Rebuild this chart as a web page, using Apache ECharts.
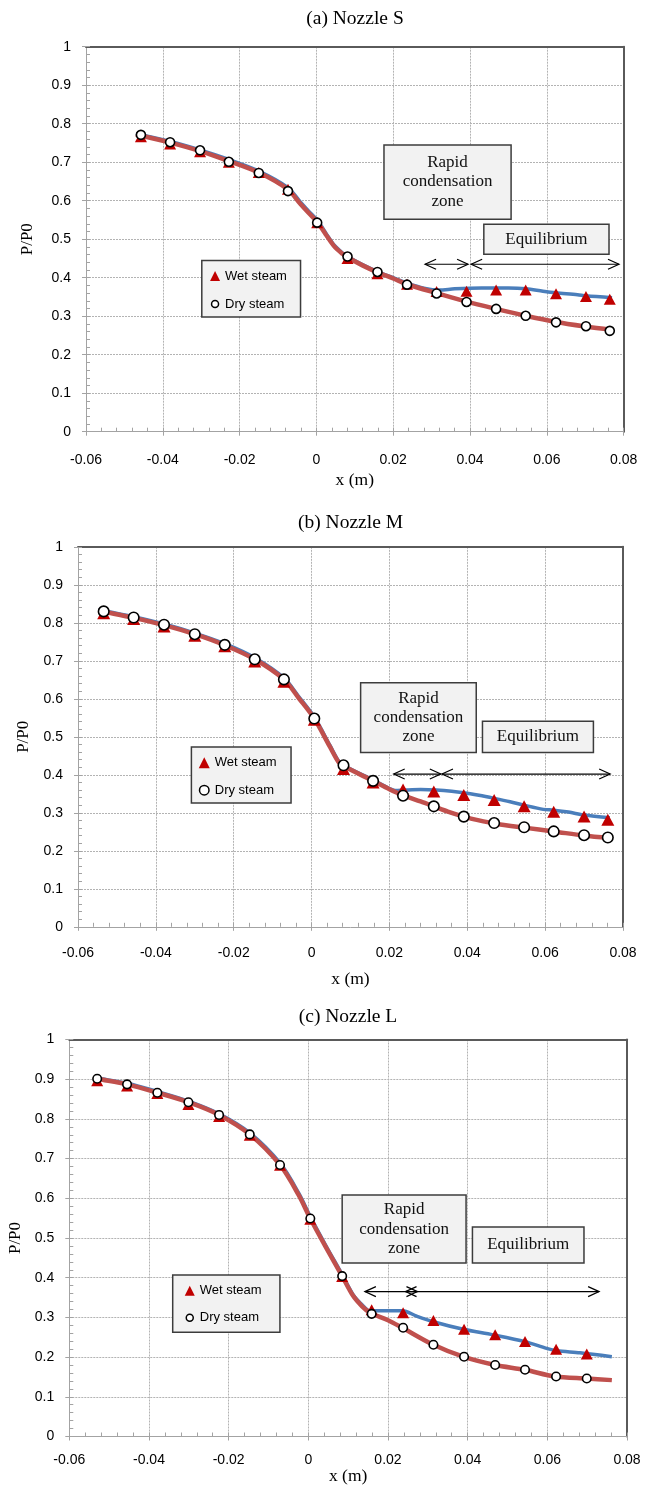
<!DOCTYPE html>
<html>
<head>
<meta charset="utf-8">
<title>P/P0 along the nozzle axis</title>
<script src="https://cdn.jsdelivr.net/npm/echarts@6/dist/echarts.min.js"></script>
<style>
  html, body { margin: 0; padding: 0; background: #ffffff; }
  #chart { width: 655px; height: 1487px; }
</style>
</head>
<body>
<div id="chart"></div>
<script>
// ---------------------------------------------------------------------------
// Data: static pressure ratio P/P0 along the nozzle axis x (m)
// ---------------------------------------------------------------------------
const panelTitles = ['(a) Nozzle S', '(b) Nozzle M', '(c) Nozzle L'];
const seriesNames = ['Wet steam', 'Dry steam'];
const xTickLabels = ['-0.06', '-0.04', '-0.02', '0', '0.02', '0.04', '0.06', '0.08'];
const yTickLabels = ['0', '0.1', '0.2', '0.3', '0.4', '0.5', '0.6', '0.7', '0.8', '0.9', '1'];
const zoneLabels = ['Rapid\ncondensation\nzone', 'Equilibrium'];

// Nozzle S
const xS   = [-0.0457, -0.0381, -0.0303, -0.0228, -0.0150, -0.0074, 0.0002, 0.0081, 0.0159, 0.0236, 0.0313, 0.0391, 0.0468, 0.0545, 0.0624, 0.0702, 0.0764];
const wetS = [0.766, 0.747, 0.727, 0.700, 0.673, 0.630, 0.543, 0.450, 0.410, 0.383, 0.364, 0.365, 0.368, 0.368, 0.358, 0.351, 0.344];
const dryS = [0.771, 0.752, 0.731, 0.701, 0.672, 0.625, 0.543, 0.455, 0.415, 0.382, 0.359, 0.337, 0.319, 0.301, 0.284, 0.274, 0.262];
const wetCurveS = [[-0.0470, 0.774], [-0.0381, 0.754], [-0.0303, 0.732], [-0.0228, 0.707], [-0.0150, 0.677], [-0.0074, 0.634], [-0.0042, 0.597], [-0.0020, 0.573], [0.0002, 0.550], [0.0024, 0.517], [0.0046, 0.485], [0.0068, 0.464], [0.0081, 0.455], [0.0120, 0.434], [0.0159, 0.416], [0.0200, 0.400], [0.0236, 0.386], [0.0280, 0.373], [0.0320, 0.368], [0.0360, 0.371], [0.0430, 0.373], [0.0500, 0.373], [0.0546, 0.371], [0.0590, 0.365], [0.0624, 0.361], [0.0680, 0.356], [0.0702, 0.353], [0.0770, 0.348]];
const dryCurveS = [[-0.0470, 0.772], [-0.0381, 0.751], [-0.0303, 0.729], [-0.0228, 0.703], [-0.0150, 0.673], [-0.0074, 0.629], [-0.0042, 0.592], [-0.0020, 0.568], [0.0002, 0.545], [0.0024, 0.513], [0.0046, 0.482], [0.0068, 0.462], [0.0081, 0.453], [0.0120, 0.432], [0.0159, 0.414], [0.0200, 0.398], [0.0236, 0.383], [0.0313, 0.360], [0.0391, 0.338], [0.0468, 0.319], [0.0545, 0.301], [0.0624, 0.285], [0.0702, 0.273], [0.0770, 0.264]];

// Nozzle M
const xM   = [-0.0534, -0.0457, -0.0379, -0.0300, -0.0223, -0.0146, -0.0071, 0.0007, 0.0082, 0.0158, 0.0235, 0.0314, 0.0391, 0.0469, 0.0546, 0.0622, 0.0700, 0.0761];
const wetM = [0.825, 0.810, 0.790, 0.766, 0.738, 0.698, 0.645, 0.545, 0.415, 0.380, 0.361, 0.356, 0.347, 0.334, 0.317, 0.303, 0.290, 0.282];
const dryM = [0.830, 0.814, 0.795, 0.770, 0.742, 0.704, 0.651, 0.548, 0.425, 0.384, 0.345, 0.317, 0.290, 0.273, 0.262, 0.251, 0.241, 0.235];
const wetCurveM = [[-0.0548, 0.834], [-0.0534, 0.832], [-0.0457, 0.816], [-0.0379, 0.797], [-0.0300, 0.773], [-0.0223, 0.745], [-0.0146, 0.708], [-0.0071, 0.655], [-0.0033, 0.606], [0.0007, 0.552], [0.0047, 0.478], [0.0069, 0.437], [0.0082, 0.425], [0.0158, 0.386], [0.0200, 0.364], [0.0215, 0.359], [0.0240, 0.360], [0.0280, 0.361], [0.0320, 0.360], [0.0360, 0.357], [0.0391, 0.353], [0.0430, 0.346], [0.0469, 0.338], [0.0510, 0.329], [0.0546, 0.320], [0.0595, 0.309], [0.0622, 0.307], [0.0660, 0.302], [0.0700, 0.294], [0.0766, 0.287]];
const dryCurveM = [[-0.0548, 0.832], [-0.0534, 0.829], [-0.0457, 0.813], [-0.0379, 0.794], [-0.0300, 0.770], [-0.0223, 0.741], [-0.0146, 0.704], [-0.0071, 0.651], [-0.0033, 0.602], [0.0007, 0.548], [0.0047, 0.474], [0.0069, 0.434], [0.0082, 0.423], [0.0158, 0.384], [0.0200, 0.362], [0.0235, 0.346], [0.0280, 0.330], [0.0314, 0.317], [0.0350, 0.303], [0.0391, 0.290], [0.0430, 0.280], [0.0469, 0.272], [0.0546, 0.261], [0.0622, 0.251], [0.0700, 0.240], [0.0766, 0.233]];

// Nozzle L
const xL   = [-0.0530, -0.0455, -0.0379, -0.0301, -0.0224, -0.0147, -0.0071, 0.0005, 0.0085, 0.0159, 0.0238, 0.0314, 0.0391, 0.0469, 0.0544, 0.0622, 0.0699];
const wetL = [0.896, 0.883, 0.864, 0.836, 0.806, 0.759, 0.683, 0.547, 0.403, 0.319, 0.312, 0.292, 0.270, 0.256, 0.239, 0.220, 0.208];
const dryL = [0.901, 0.887, 0.866, 0.842, 0.810, 0.761, 0.684, 0.549, 0.404, 0.309, 0.274, 0.231, 0.201, 0.180, 0.168, 0.151, 0.146];
const wetCurveL = [[-0.0537, 0.905], [-0.0530, 0.903], [-0.0455, 0.890], [-0.0379, 0.869], [-0.0301, 0.845], [-0.0224, 0.813], [-0.0147, 0.765], [-0.0071, 0.689], [-0.0024, 0.613], [0.0005, 0.554], [0.0044, 0.481], [0.0085, 0.408], [0.0112, 0.358], [0.0135, 0.332], [0.0155, 0.316], [0.0172, 0.317], [0.0237, 0.317], [0.0270, 0.304], [0.0314, 0.289], [0.0389, 0.270], [0.0464, 0.256], [0.0544, 0.239], [0.0598, 0.222], [0.0624, 0.216], [0.0682, 0.211], [0.0762, 0.201]];
const dryCurveL = [[-0.0537, 0.903], [-0.0530, 0.901], [-0.0455, 0.887], [-0.0379, 0.866], [-0.0301, 0.842], [-0.0224, 0.810], [-0.0147, 0.761], [-0.0071, 0.684], [-0.0024, 0.608], [0.0005, 0.549], [0.0044, 0.477], [0.0085, 0.404], [0.0112, 0.355], [0.0135, 0.328], [0.0155, 0.312], [0.0200, 0.293], [0.0234, 0.275], [0.0310, 0.233], [0.0389, 0.201], [0.0469, 0.180], [0.0544, 0.168], [0.0619, 0.151], [0.0699, 0.146], [0.0762, 0.142]];

const panels = [
  { title: panelTitles[0], x: xS, wet: wetS, dry: dryS, wetCurve: wetCurveS, dryCurve: dryCurveS },
  { title: panelTitles[1], x: xM, wet: wetM, dry: dryM, wetCurve: wetCurveM, dryCurve: dryCurveM },
  { title: panelTitles[2], x: xL, wet: wetL, dry: dryL, wetCurve: wetCurveL, dryCurve: dryCurveL }
];

// ---------------------------------------------------------------------------
// Layout and styling
// ---------------------------------------------------------------------------
const SERIF = '"Liberation Serif", "Times New Roman", serif';
const SANS = '"Liberation Sans", Arial, sans-serif';
const X_MIN = -0.06, X_MAX = 0.08, X_STEP = 0.02;
const Y_MIN = 0, Y_MAX = 1, Y_STEP = 0.1;

const COLORS = {
  wetLine: '#4a7ebb',
  dryLine: '#c0504d',
  wetMark: '#c00000',
  dryFill: '#ffffff',
  dryEdge: '#000000',
  axis: '#a3a3a3',
  grid: '#b3b3b3',
  frame: '#5a5a5a',
  boxFill: '#f2f2f2',
  boxEdge: '#3c3c3c'
};

// zone annotations are placed in data coordinates of each panel
const layout = [
  {
    grid: { left: 86, top: 46.7, width: 537.6, height: 385 },
    titleX: 355, titleTop: 9,
    xLabelMargin: 21, xNameGap: 40, yNameGap: 50,
    tri: [12, 11], dot: 9,
    legend: { left: 201.8, top: 260.4, padding: [8.6, 13.6, 6, 7.5], itemGap: 14, icon: 10, dotIcon: 7 },
    zones: { rapid: [0.0176, 0.745, 0.0507, 0.552], equil: [0.0436, 0.539, 0.0762, 0.461],
             arrowY: 0.435, arrows: [[0.0283, 0.0395], [0.0403, 0.0788]] }
  },
  {
    grid: { left: 78, top: 546.8, width: 545, height: 380 },
    titleX: 350.5, titleTop: 512.5,
    xLabelMargin: 19, xNameGap: 44, yNameGap: 46,
    tri: [13, 12], dot: 10.5,
    legend: { left: 191.4, top: 747, padding: [8.8, 14.4, 5.8, 6.6], itemGap: 13.4, icon: 11, dotIcon: 9.5 },
    zones: { rapid: [0.0126, 0.642, 0.0423, 0.459], equil: [0.0439, 0.541, 0.0724, 0.459],
             arrowY: 0.402, arrows: [[0.0211, 0.0332], [0.0335, 0.0767]] }
  },
  {
    grid: { left: 69.3, top: 1039.5, width: 557.7, height: 397 },
    titleX: 348, titleTop: 1007,
    xLabelMargin: 16.5, xNameGap: 31, yNameGap: 43,
    tri: [12, 11], dot: 8.5,
    legend: { left: 172.7, top: 1275, padding: [8.7, 18.3, 7.6, 11.3], itemGap: 13, icon: 10, dotIcon: 7 },
    zones: { rapid: [0.0085, 0.608, 0.0396, 0.437], equil: [0.0412, 0.528, 0.0692, 0.437],
             arrowY: 0.365, arrows: [[0.0142, 0.0274], [0.0244, 0.0730]] }
  }
];

// ---------------------------------------------------------------------------
// Option building
// ---------------------------------------------------------------------------
const fmtX = v => xTickLabels[Math.round((v - X_MIN) / X_STEP)];
const fmtY = v => yTickLabels[Math.round((v - Y_MIN) / Y_STEP)];

// circle icon drawn inside a square box so the legend marker can be smaller than the box
function ringIcon(box, d) {
  const c = box / 2, r = d / 2;
  return 'path://M0,0M' + box + ',' + box + 'M' + c + ',' + (c - r) +
    'A' + r + ',' + r + ',0,1,1,' + c + ',' + (c + r) +
    'A' + r + ',' + r + ',0,1,1,' + c + ',' + (c - r) + 'Z';
}

const grids = [], xAxes = [], yAxes = [], series = [], titles = [], legends = [];

panels.forEach((p, i) => {
  const L = layout[i];
  grids.push(Object.assign({ outerBoundsMode: 'none', containLabel: false }, L.grid));

  titles.push({
    text: p.title, left: L.titleX, top: L.titleTop, textAlign: 'center', padding: 0,
    textStyle: { fontFamily: SERIF, fontSize: 19.5, fontWeight: 'normal', color: '#000' }
  });

  // main x axis with labels, minor ticks and dotted grid
  xAxes.push({
    gridIndex: i, type: 'value', position: 'bottom', min: X_MIN, max: X_MAX, interval: X_STEP,
    name: 'x (m)', nameLocation: 'middle', nameGap: L.xNameGap,
    nameTextStyle: { fontFamily: SERIF, fontSize: 17.5, color: '#000' },
    axisLine: { show: true, onZero: false, lineStyle: { color: COLORS.axis, width: 1 } },
    axisTick: { show: true, inside: true, length: 4, lineStyle: { color: COLORS.axis } },
    minorTick: { show: true, splitNumber: 5, length: 4, lineStyle: { color: COLORS.axis } },
    splitLine: { show: true, lineStyle: { color: COLORS.grid, width: 1, type: [2, 1] } },
    axisLabel: { margin: L.xLabelMargin, fontFamily: SANS, fontSize: 14, color: '#000', formatter: fmtX }
  });
  // outward part of the major ticks
  xAxes.push({
    gridIndex: i, type: 'value', position: 'bottom', min: X_MIN, max: X_MAX, interval: X_STEP,
    axisLine: { show: false, onZero: false },
    axisTick: { show: true, inside: false, length: 4, lineStyle: { color: COLORS.axis } },
    axisLabel: { show: false }, splitLine: { show: false }
  });
  // top frame
  xAxes.push({
    gridIndex: i, type: 'value', position: 'top', min: X_MIN, max: X_MAX,
    axisLine: { show: true, onZero: false, lineStyle: { color: COLORS.frame, width: 2 } },
    axisTick: { show: false }, axisLabel: { show: false }, splitLine: { show: false }
  });

  yAxes.push({
    gridIndex: i, type: 'value', position: 'left', min: Y_MIN, max: Y_MAX, interval: Y_STEP,
    name: 'P/P0', nameLocation: 'middle', nameRotate: 90, nameGap: L.yNameGap,
    nameTextStyle: { fontFamily: SERIF, fontSize: 17, color: '#000' },
    axisLine: { show: true, onZero: false, lineStyle: { color: COLORS.axis, width: 1 } },
    axisTick: { show: true, inside: true, length: 4, lineStyle: { color: COLORS.axis } },
    minorTick: { show: true, splitNumber: 5, length: 4, lineStyle: { color: COLORS.axis } },
    splitLine: { show: true, lineStyle: { color: COLORS.grid, width: 1, type: [2, 1] } },
    axisLabel: { margin: 15, fontFamily: SANS, fontSize: 14, color: '#000', formatter: fmtY }
  });
  yAxes.push({
    gridIndex: i, type: 'value', position: 'left', min: Y_MIN, max: Y_MAX, interval: Y_STEP,
    axisLine: { show: false, onZero: false },
    axisTick: { show: true, inside: false, length: 4, lineStyle: { color: COLORS.axis } },
    axisLabel: { show: false }, splitLine: { show: false }
  });
  // right frame
  yAxes.push({
    gridIndex: i, type: 'value', position: 'right', min: Y_MIN, max: Y_MAX,
    axisLine: { show: true, onZero: false, lineStyle: { color: COLORS.frame, width: 2 } },
    axisTick: { show: false }, axisLabel: { show: false }, splitLine: { show: false }
  });

  const ax = { xAxisIndex: i * 3, yAxisIndex: i * 3 };

  series.push(Object.assign({
    name: 'Wet steam model', type: 'line', data: p.wetCurve, smooth: 0.3,
    showSymbol: false, silent: true, z: 2,
    lineStyle: { color: COLORS.wetLine, width: 3.5 }
  }, ax));
  series.push(Object.assign({
    name: 'Dry steam model', type: 'line', data: p.dryCurve, smooth: 0.3,
    showSymbol: false, silent: true, z: 3,
    lineStyle: { color: COLORS.dryLine, width: 4.5 }
  }, ax));
  series.push(Object.assign({
    name: seriesNames[0], type: 'scatter', data: p.x.map((x, k) => [x, p.wet[k]]),
    symbol: 'triangle', symbolSize: L.tri, silent: true, z: 4,
    itemStyle: { color: COLORS.wetMark, opacity: 1 }
  }, ax));
  series.push(Object.assign({
    name: seriesNames[1], type: 'scatter', data: p.x.map((x, k) => [x, p.dry[k]]),
    symbol: 'circle', symbolSize: L.dot, silent: true, z: 5,
    itemStyle: { color: COLORS.dryFill, borderColor: COLORS.dryEdge, borderWidth: 1.6, opacity: 1 }
  }, ax));

  const lg = L.legend;
  legends.push({
    show: true, orient: 'vertical', left: lg.left, top: lg.top, padding: lg.padding,
    itemGap: lg.itemGap, itemWidth: lg.icon, itemHeight: lg.icon, selectedMode: false,
    backgroundColor: COLORS.boxFill, borderColor: COLORS.boxEdge, borderWidth: 1.5, borderRadius: 0,
    textStyle: { fontFamily: SANS, fontSize: 13, color: '#000', lineHeight: 14 },
    data: [
      { name: seriesNames[0], icon: 'triangle', itemStyle: { color: COLORS.wetMark, borderWidth: 0, opacity: 1 } },
      { name: seriesNames[1], icon: ringIcon(lg.icon, lg.dotIcon),
        itemStyle: { color: COLORS.dryFill, borderColor: COLORS.dryEdge, borderWidth: 1.5, opacity: 1 } }
    ],
    z: 8
  });
});

const chart = echarts.init(document.getElementById('chart'), null, { renderer: 'canvas' });
chart.setOption({
  animation: false,
  backgroundColor: '#ffffff',
  title: titles,
  legend: legends,
  grid: grids,
  xAxis: xAxes,
  yAxis: yAxes,
  series: series
});

// ---------------------------------------------------------------------------
// Zone boxes and double-headed arrows, placed through each panel's axes
// ---------------------------------------------------------------------------
function arrowHead(tip, dir, len) {
  const half = 5;
  return {
    type: 'polyline', z: 30, silent: true,
    shape: { points: [[tip[0] - dir * len, tip[1] - half], tip, [tip[0] - dir * len, tip[1] + half]] },
    style: { stroke: '#000', lineWidth: 1.2, fill: null }
  };
}

const overlay = [];
layout.forEach((L, gi) => {
  const toPx = (x, y) => chart.convertToPixel({ gridIndex: gi }, [x, y]);
  const Z = L.zones;
  [[Z.rapid, zoneLabels[0]], [Z.equil, zoneLabels[1]]].forEach(([b, txt]) => {
    const a = toPx(b[0], b[1]), c = toPx(b[2], b[3]);
    overlay.push({
      type: 'rect', z: 20, silent: true,
      shape: { x: a[0], y: a[1], width: c[0] - a[0], height: c[1] - a[1] },
      style: { fill: COLORS.boxFill, stroke: COLORS.boxEdge, lineWidth: 1.5 }
    });
    overlay.push({
      type: 'text', z: 21, silent: true,
      x: (a[0] + c[0]) / 2, y: (a[1] + c[1]) / 2,
      style: { text: txt, fill: '#111', fontFamily: SERIF, fontSize: 17, lineHeight: 19.3,
               align: 'center', verticalAlign: 'middle' }
    });
  });
  Z.arrows.forEach(([x0, x1]) => {
    const p0 = toPx(x0, Z.arrowY), p1 = toPx(x1, Z.arrowY);
    overlay.push({
      type: 'line', z: 30, silent: true,
      shape: { x1: p0[0], y1: p0[1], x2: p1[0], y2: p1[1] },
      style: { stroke: '#000', lineWidth: 1.2 }
    });
    overlay.push(arrowHead(p0, -1, 11));
    overlay.push(arrowHead(p1, 1, 11));
  });
});

chart.setOption({ graphic: overlay });
</script>
</body>
</html>
